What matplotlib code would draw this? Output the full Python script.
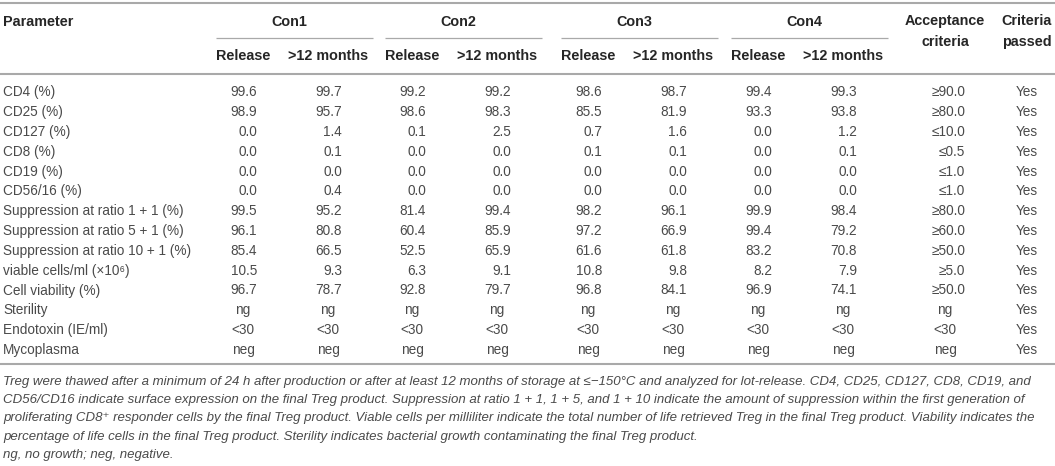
import matplotlib
matplotlib.use("Agg")
import matplotlib.pyplot as plt
from matplotlib import font_manager as fm

# ---------------- data ----------------
parameters = ["CD4 (%)", "CD25 (%)", "CD127 (%)", "CD8 (%)", "CD19 (%)", "CD56/16 (%)",
              "Suppression at ratio 1 + 1 (%)", "Suppression at ratio 5 + 1 (%)",
              "Suppression at ratio 10 + 1 (%)", "viable cells/ml (×10⁶)",
              "Cell viability (%)", "Sterility", "Endotoxin (IE/ml)", "Mycoplasma"]

groups = ["Con1", "Con2", "Con3", "Con4"]
subheaders = ["Release", ">12 months"]

con1_release = ["99.6", "98.9", "0.0", "0.0", "0.0", "0.0", "99.5", "96.1", "85.4", "10.5", "96.7", "ng", "<30", "neg"]
con1_12m     = ["99.7", "95.7", "1.4", "0.1", "0.0", "0.4", "95.2", "80.8", "66.5", "9.3", "78.7", "ng", "<30", "neg"]
con2_release = ["99.2", "98.6", "0.1", "0.0", "0.0", "0.0", "81.4", "60.4", "52.5", "6.3", "92.8", "ng", "<30", "neg"]
con2_12m     = ["99.2", "98.3", "2.5", "0.0", "0.0", "0.0", "99.4", "85.9", "65.9", "9.1", "79.7", "ng", "<30", "neg"]
con3_release = ["98.6", "85.5", "0.7", "0.1", "0.0", "0.0", "98.2", "97.2", "61.6", "10.8", "96.8", "ng", "<30", "neg"]
con3_12m     = ["98.7", "81.9", "1.6", "0.1", "0.0", "0.0", "96.1", "66.9", "61.8", "9.8", "84.1", "ng", "<30", "neg"]
con4_release = ["99.4", "93.3", "0.0", "0.0", "0.0", "0.0", "99.9", "99.4", "83.2", "8.2", "96.9", "ng", "<30", "neg"]
con4_12m     = ["99.3", "93.8", "1.2", "0.1", "0.0", "0.0", "98.4", "79.2", "70.8", "7.9", "74.1", "ng", "<30", "neg"]
acceptance   = ["≥90.0", "≥80.0", "≤10.0", "≤0.5", "≤1.0", "≤1.0", "≥80.0", "≥60.0", "≥50.0", "≥5.0", "≥50.0", "ng", "<30", "neg"]
passed       = ["Yes"] * 14

footnote_lines = [
    "Treg were thawed after a minimum of 24 h after production or after at least 12 months of storage at ≤−150°C and analyzed for lot-release. CD4, CD25, CD127, CD8, CD19, and",
    "CD56/CD16 indicate surface expression on the final Treg product. Suppression at ratio 1 + 1, 1 + 5, and 1 + 10 indicate the amount of suppression within the first generation of",
    "proliferating CD8⁺ responder cells by the final Treg product. Viable cells per milliliter indicate the total number of life retrieved Treg in the final Treg product. Viability indicates the",
    "percentage of life cells in the final Treg product. Sterility indicates bacterial growth contaminating the final Treg product.",
    "ng, no growth; neg, negative.",
]

data_cols = [con1_release, con1_12m, con2_release, con2_12m,
             con3_release, con3_12m, con4_release, con4_12m]

# ---------------- layout ----------------
W, H = 1055, 466
fig = plt.figure(figsize=(W / 100, H / 100), dpi=100)
ax = fig.add_axes([0, 0, 1, 1])
ax.set_xlim(0, W)
ax.set_ylim(H, 0)
ax.axis("off")

names = {f.name for f in fm.fontManager.ttflist}
base = "Liberation Sans" if "Liberation Sans" in names else "DejaVu Sans"
fam = [base, "DejaVu Sans"]
narrow = "Liberation Sans Narrow" if "Liberation Sans Narrow" in names else base
fam_note = [narrow, "DejaVu Sans"]

body_col = "#4a4a4a"
head_col = "#262626"
rule_col = "#a9a9a9"
fs_body = 9.8
fs_head = 10.4

col_centers = [243, 328, 412, 497, 588, 673, 758, 843]
acc_center, acc_right = 945, 965
pass_center = 1027
row_y0, row_dy = 92.3, 19.82

def is_num(s):
    try:
        float(s.replace("≥", "").replace("≤", ""))
        return True
    except ValueError:
        return False

# rules
ax.plot([0, W], [2.5, 2.5], color=rule_col, lw=1.5, solid_capstyle="butt")
ax.plot([0, W], [74, 74], color=rule_col, lw=1.5, solid_capstyle="butt")
ax.plot([0, W], [364, 364], color=rule_col, lw=1.5, solid_capstyle="butt")
for g in range(4):
    c0, c1 = col_centers[2 * g], col_centers[2 * g + 1]
    ax.plot([c0 - 27, c1 + 45], [37.7, 37.7], color=rule_col, lw=0.9, solid_capstyle="butt")

# headers
ax.text(3, 21.5, "Parameter", ha="left", va="center", fontsize=fs_head,
        fontweight="bold", color=head_col, family=fam)
for g, name in enumerate(groups):
    c0, c1 = col_centers[2 * g], col_centers[2 * g + 1]
    ax.text((c0 + c1) / 2 + 4, 21.5, name, ha="center", va="center", fontsize=fs_head,
            fontweight="bold", color=head_col, family=fam)
    for k, sh in enumerate(subheaders):
        ax.text(col_centers[2 * g + k], 56.5, sh, ha="center", va="center",
                fontsize=fs_head, fontweight="bold", color=head_col, family=fam)
ax.text(acc_center, 21, "Acceptance", ha="center", va="center", fontsize=fs_head,
        fontweight="bold", color=head_col, family=fam)
ax.text(acc_center, 42, "criteria", ha="center", va="center", fontsize=fs_head,
        fontweight="bold", color=head_col, family=fam)
ax.text(pass_center, 21, "Criteria", ha="center", va="center", fontsize=fs_head,
        fontweight="bold", color=head_col, family=fam)
ax.text(pass_center, 42, "passed", ha="center", va="center", fontsize=fs_head,
        fontweight="bold", color=head_col, family=fam)

# body
for i, p in enumerate(parameters):
    y = row_y0 + i * row_dy
    ax.text(3, y, p, ha="left", va="center", fontsize=fs_body, color=body_col, family=fam)
    for j, col in enumerate(data_cols):
        v = col[i]
        if is_num(v):
            ax.text(col_centers[j] + 14, y, v, ha="right", va="center",
                    fontsize=fs_body, color=body_col, family=fam)
        else:
            ax.text(col_centers[j], y, v, ha="center", va="center",
                    fontsize=fs_body, color=body_col, family=fam)
    a = acceptance[i]
    if is_num(a):
        ax.text(acc_right, y, a, ha="right", va="center", fontsize=fs_body,
                color=body_col, family=fam)
    else:
        ax.text(acc_center, y, a, ha="center", va="center", fontsize=fs_body,
                color=body_col, family=fam)
    ax.text(pass_center, y, passed[i], ha="center", va="center", fontsize=fs_body,
            color=body_col, family=fam)

# footnote: fit the first line to its width in the reference
fig.canvas.draw()
renderer = fig.canvas.get_renderer()
probe = ax.text(3, 381.7, footnote_lines[0], ha="left", va="center", fontsize=10,
                style="italic", color=body_col, family=fam_note)
wpx = probe.get_window_extent(renderer).width
probe.remove()
fs_note = 10 * 1037.0 / wpx
fs_note = min(fs_note, 10.5)
for k, line in enumerate(footnote_lines):
    ax.text(3, 381.7 + k * 18.3, line, ha="left", va="center", fontsize=fs_note,
            style="italic", color=body_col, family=fam_note)

fig.savefig("out.png", dpi=100)
